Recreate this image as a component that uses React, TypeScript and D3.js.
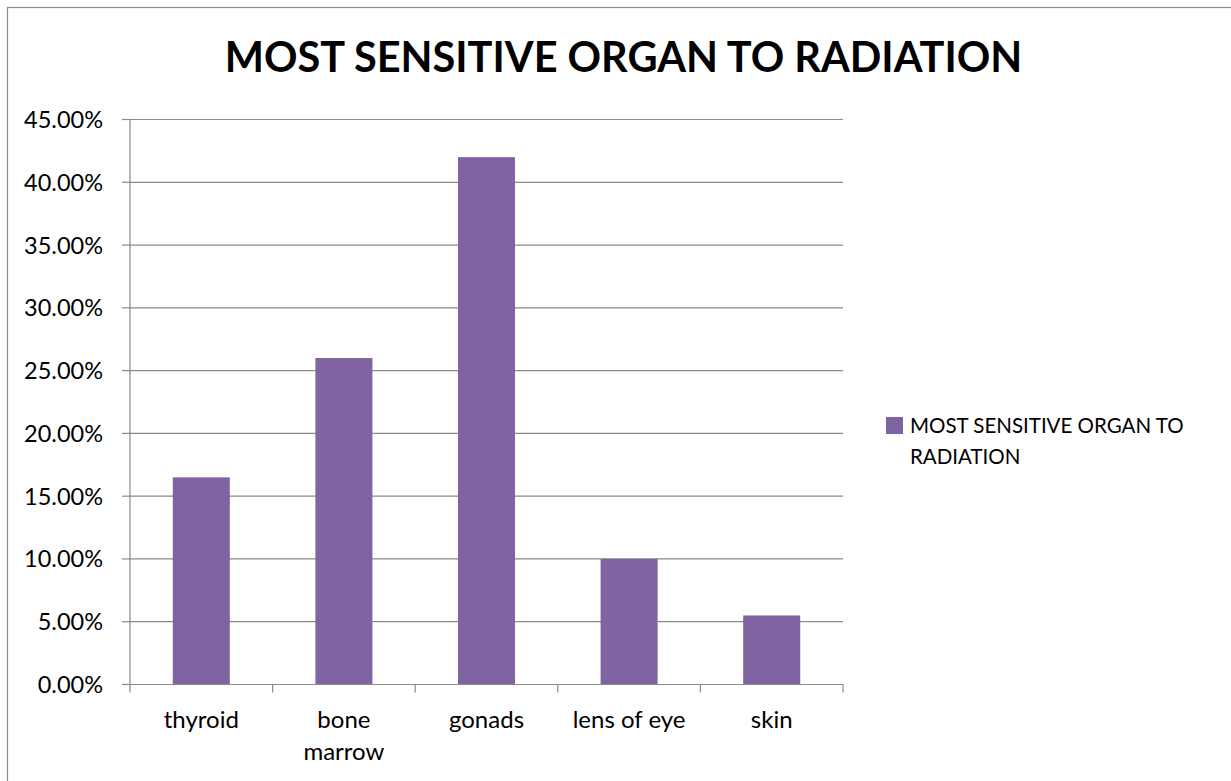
import React from "react";
import * as d3 from "d3";

// Share of respondents naming each organ as the most radiation-sensitive
const categories: string[][] = [["thyroid"], ["bone", "marrow"], ["gonads"], ["lens of eye"], ["skin"]];
const values: number[] = [0.165, 0.26, 0.42, 0.10, 0.055];
const yTicks: number[] = [0, 0.05, 0.1, 0.15, 0.2, 0.25, 0.3, 0.35, 0.4, 0.45];
const chartTitle = "MOST SENSITIVE ORGAN TO RADIATION";
const legendLines = ["MOST SENSITIVE ORGAN TO", "RADIATION"];

const W = 1231;
const H = 781;
const plot = { left: 130, right: 843, top: 119.5, bottom: 684.5 };
const FONT = "Lato, 'Open Sans', sans-serif";
const BAR = "#8064A2";
const GRID = "#8a8a8a";

export default function App() {
  const keys = categories.map((c) => c.join(" "));
  const x = d3.scaleBand<string>().domain(keys).range([plot.left, plot.right]).paddingInner(0.6).paddingOuter(0.3);
  const y = d3.scaleLinear().domain([0, 0.45]).range([plot.bottom, plot.top]);
  const fmt = (v: number) => (v * 100).toFixed(2) + "%";
  const edges = d3.range(keys.length + 1).map((i) => plot.left + i * ((plot.right - plot.left) / keys.length));

  return (
    <svg width={W} height={H} style={{ position: "absolute", left: 0, top: 0, background: "#fff" }} fontFamily={FONT}>
      <rect x={7.5} y={7.5} width={W + 20} height={H + 20} fill="#fff" stroke="#8c8c8c" strokeWidth={1.2} />
      <text x={623.5} y={72} textAnchor="middle" fontSize={41.5} fontWeight={700} fill="#000">
        {chartTitle}
      </text>

      {/* gridlines and value axis */}
      {yTicks.map((t) => (
        <g key={t}>
          {t > 0 && <line x1={plot.left} x2={plot.right} y1={y(t)} y2={y(t)} stroke={GRID} strokeWidth={1.2} />}
          <line x1={plot.left - 8} x2={plot.left} y1={y(t)} y2={y(t)} stroke={GRID} strokeWidth={1.2} />
          <text x={103} y={y(t)} dy="0.36em" textAnchor="end" fontSize={23.5} fill="#000">
            {fmt(t)}
          </text>
        </g>
      ))}
      <line x1={plot.left} x2={plot.left} y1={plot.top} y2={plot.bottom} stroke={GRID} strokeWidth={1.2} />

      {/* bars */}
      {values.map((v, i) => (
        <rect key={keys[i]} x={x(keys[i])} y={y(v)} width={x.bandwidth()} height={y(0) - y(v)} fill={BAR} />
      ))}

      {/* category axis */}
      <line x1={plot.left - 8} x2={plot.right} y1={plot.bottom} y2={plot.bottom} stroke={GRID} strokeWidth={1.2} />
      {edges.map((e, i) => (
        <line key={i} x1={e} x2={e} y1={plot.bottom} y2={plot.bottom + 8} stroke={GRID} strokeWidth={1.2} />
      ))}
      {categories.map((lines, i) => (
        <text key={keys[i]} x={(x(keys[i]) as number) + x.bandwidth() / 2} y={728} textAnchor="middle" fontSize={24} fill="#000">
          {lines.map((l, j) => (
            <tspan key={j} x={(x(keys[i]) as number) + x.bandwidth() / 2} dy={j === 0 ? 0 : 32}>
              {l}
            </tspan>
          ))}
        </text>
      ))}

      {/* legend */}
      <rect x={886} y={417} width={17} height={17} fill={BAR} />
      <text fontSize={20.5} fill="#000">
        {legendLines.map((l, j) => (
          <tspan key={j} x={910} y={433 + j * 31}>
            {l}
          </tspan>
        ))}
      </text>
    </svg>
  );
}
